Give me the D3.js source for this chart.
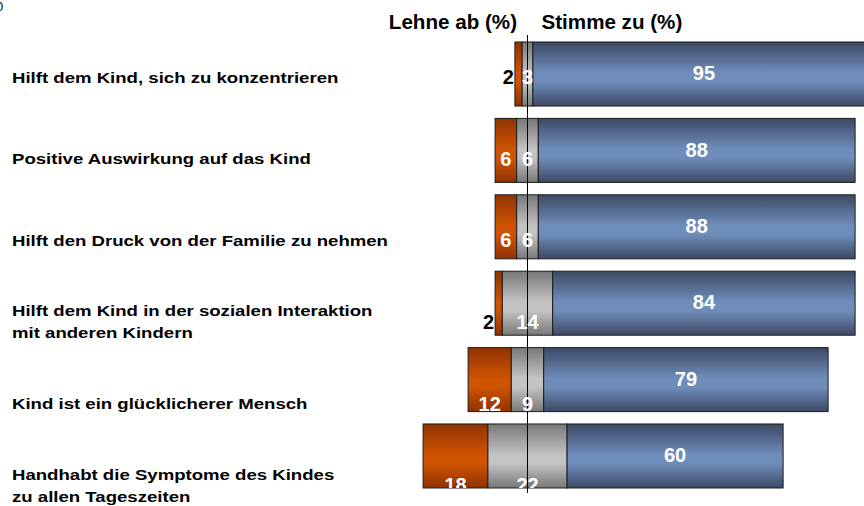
<!DOCTYPE html>
<html>
<head>
<meta charset="utf-8">
<script src="https://cdn.jsdelivr.net/npm/d3@7"></script>
<style>
  body { margin: 0; background: #fff; }
  svg { display: block; font-family: 'Liberation Sans', Arial, sans-serif; }
</style>
</head>
<body>
<svg id="chart" width="864" height="506"></svg>
<script>
const categories = [
	['Hilft dem Kind, sich zu konzentrieren'],
	['Positive Auswirkung auf das Kind'],
	['Hilft den Druck von der Familie zu nehmen'],
	['Hilft dem Kind in der sozialen Interaktion', 'mit anderen Kindern'],
	['Kind ist ein glücklicherer Mensch'],
	['Handhabt die Symptome des Kindes', 'zu allen Tageszeiten']
]
const lehneAb = [2, 6, 6, 2, 12, 18]
const neutral = [3, 6, 6, 14, 9, 22]
const stimmeZu = [95, 88, 88, 84, 79, 60]
const headerLeft = 'Lehne ab (%)'
const headerRight = 'Stimme zu (%)'

const svg = d3.select('#chart')
const keys = categories.map((d, i) => i)

const data = keys.map(i => ({
	i : i,
	label : categories[i],
	ab : lehneAb[i],
	neu : neutral[i],
	zu : stimmeZu[i]
}))

// value axis, zero sits in the middle of the neutral part
const xScale = d3.scaleLinear()
	.domain([-30, 100])
	.range([419.5, 887.5])

const yScale = d3.scaleBand()
	.domain(keys)
	.range([42, 488])
	.paddingInner(0.162)

// the text labels sit on a slightly wider grid than the bars
const labelScale = d3.scalePoint()
	.domain(keys)
	.range([77, 485])

// the category text in the original is stretched sideways
const place = (x, y, s) => `translate(${x},${y}) scale(${s},1)`

// gradients
const defs = svg.append('defs')
const grad = (id, edge, mid) => {
	const g = defs.append('linearGradient')
		.attr('id', id)
		.attr('x1', 0).attr('x2', 0).attr('y1', 0).attr('y2', 1)
	g.append('stop').attr('offset', '0%').attr('stop-color', edge)
	g.append('stop').attr('offset', '48%').attr('stop-color', mid)
	g.append('stop').attr('offset', '62%').attr('stop-color', mid)
	g.append('stop').attr('offset', '100%').attr('stop-color', edge)
}
grad('gOrange', '#8e3300', '#cf5300')
grad('gGrey', '#787878', '#c3c3c3')
grad('gBlue', '#3c4964', '#6f8dbb')

defs.append('clipPath').attr('id', 'clipBars')
	.append('rect').attr('x', 0).attr('y', 0).attr('width', 864).attr('height', yScale(5) + yScale.bandwidth())

const segments = []
data.forEach(d => {
	segments.push({ i : d.i, x0 : -d.neu / 2 - d.ab, x1 : -d.neu / 2, v : d.ab, fill : 'url(#gOrange)', kind : 'ab' })
	segments.push({ i : d.i, x0 : -d.neu / 2, x1 : d.neu / 2, v : d.neu, fill : 'url(#gGrey)', kind : 'neu' })
	segments.push({ i : d.i, x0 : d.neu / 2, x1 : d.neu / 2 + d.zu, v : d.zu, fill : 'url(#gBlue)', kind : 'zu' })
})

svg.append('g')
	.selectAll('rect')
	.data(segments)
	.enter()
	.append('rect')
		.attr('x', d => xScale(d.x0))
		.attr('y', d => yScale(d.i))
		.attr('width', d => xScale(d.x1) - xScale(d.x0))
		.attr('height', yScale.bandwidth())
		.attr('fill', d => d.fill)
		.attr('stroke', '#1c1c1c')
		.attr('stroke-width', 1)

// zero line
svg.append('line')
	.attr('x1', xScale(0)).attr('x2', xScale(0))
	.attr('y1', 35).attr('y2', 493)
	.attr('stroke', '#000')
	.attr('stroke-width', 1)

// value labels
const small = d => d.kind == 'ab' && d.v < 5
const vals = svg.append('g')
	.attr('clip-path', 'url(#clipBars)')
	.style('font-weight', 'bold')
	.style('font-size', '20px')

vals.selectAll('text')
	.data(segments)
	.enter()
	.append('text')
		.attr('x', d => small(d) ? xScale(d.x0) - 1 : (xScale(d.x0) + xScale(d.x1)) / 2)
		.attr('y', d => d.kind == 'zu' ? yScale(d.i) + yScale.bandwidth() / 2 - 1 : labelScale(d.i))
		.attr('dy', '0.36em')
		.attr('text-anchor', d => small(d) ? 'end' : 'middle')
		.attr('fill', d => small(d) ? '#000' : '#fff')
		.text(d => d.v)

// category labels
const cats = svg.append('g')
	.selectAll('text')
	.data(data)
	.enter()
	.append('text')
		.attr('transform', d => place(12, labelScale(d.i) - (d.label.length - 1) * 11, 1.2))
		.style('font-weight', 'bold')
		.style('font-size', '15.5px')
		.attr('fill', '#000')

cats.selectAll('tspan')
	.data(d => d.label)
	.enter()
	.append('tspan')
		.attr('x', 0)
		.attr('dy', (t, j) => j == 0 ? '0.36em' : '22px')
		.text(t => t)

// headers
svg.append('text')
	.attr('transform', place(xScale(0) - 10.5, 29, 1.03))
	.attr('text-anchor', 'end')
	.style('font-weight', 'bold').style('font-size', '20px')
	.text(headerLeft)
svg.append('text')
	.attr('transform', place(xScale(0) + 14, 29, 1.03))
	.style('font-weight', 'bold').style('font-size', '20px')
	.text(headerRight)

// cut off glyph in the corner
svg.append('text')
	.attr('x', -4).attr('y', 11)
	.style('font-size', '13px')
	.text('0')
</script>
</body>
</html>
